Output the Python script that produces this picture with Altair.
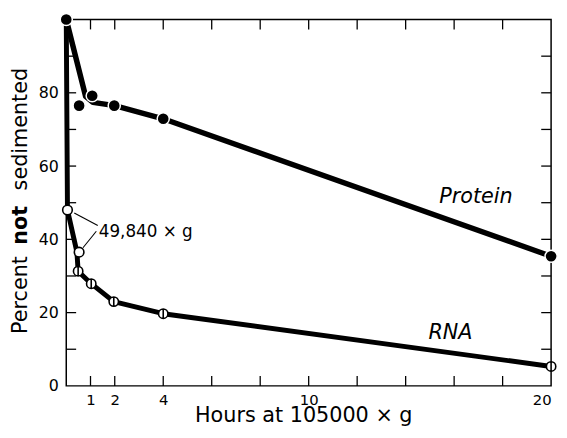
import altair as alt
import pandas as pd

# ---------------- data ----------------
# Protein (filled circles)
protein_hours = [0, 0.53, 1.07, 1.98, 4, 20]
protein_pct = [100, 76.5, 79.2, 76.5, 72.9, 35.4]
# drawn protein curve
protein_curve_hours = [0, 0.8, 1.1, 2, 4, 20]
protein_curve_pct = [100, 79, 77.4, 76.5, 72.9, 35.4]

# RNA at 105000 x g (circles with bar)
rna_hours = [0.49, 1.03, 1.96, 4, 20]
rna_pct = [31.3, 27.9, 23.0, 19.7, 5.3]
# RNA at 49,840 x g (open circles)
rna_low_hours = [0.05, 0.53]
rna_low_pct = [48.0, 36.5]
# drawn RNA curve
rna_curve_hours = [0, 0.05, 0.44, 0.49, 1.03, 1.96, 4, 20]
rna_curve_pct = [100, 48.0, 36.5, 31.3, 27.9, 23.0, 19.7, 5.3]

x_label_values = [1, 2, 4, 10, 20]
y_label_values = [0, 20, 40, 60, 80]
x_tick_values = [1, 2, 4, 6, 8, 10, 12, 14, 16, 18]
y_tick_values = [10, 20, 30, 40, 50, 60, 70, 80, 90]

series_labels = ["Protein", "RNA"]
series_label_hours = [16.9, 15.85]
series_label_pct = [49.9, 12.9]

annot_text = ["49,840 \u00d7 g"]
annot_hours = [1.34]
annot_pct = [40.6]
leader_h1 = [0.33, 0.69]
leader_p1 = [47.2, 37.7]
leader_h2 = [1.30, 1.24]
leader_p2 = [43.8, 42.2]

x_title = "Hours at 105000 \u00d7 g"

# ---------------- chart ----------------
W, H = 491, 371
FONT = "DejaVu Sans"

xscale = alt.Scale(domain=[0, 20], nice=False, zero=False)
yscale = alt.Scale(domain=[0, 100], nice=False, zero=False)

xaxis = alt.Axis(values=x_label_values, ticks=False, tickSize=0, domain=False, grid=False,
                 labelFont=FONT, labelFontSize=15, labelColor="black", labelPadding=7,
                 title=x_title, titleFont=FONT, titleFontSize=21, titleFontWeight="normal",
                 titleColor="black", titleBaseline="alphabetic", titleAlign="center",
                 titleX=240, titleY=36)
yaxis = alt.Axis(values=y_label_values, ticks=False, tickSize=0, domain=False, grid=False,
                 labelFont=FONT, labelFontSize=16, labelColor="black", labelPadding=8,
                 title="")

X = alt.X("h:Q", scale=xscale, axis=xaxis)
Y = alt.Y("p:Q", scale=yscale, axis=yaxis)

prot_curve = pd.DataFrame({"h": protein_curve_hours, "p": protein_curve_pct})
rna_curve = pd.DataFrame({"h": rna_curve_hours, "p": rna_curve_pct})
prot_pts = pd.DataFrame({"h": protein_hours, "p": protein_pct})
rna_pts = pd.DataFrame({"h": rna_hours, "p": rna_pct})
rna_low = pd.DataFrame({"h": rna_low_hours, "p": rna_low_pct})
leaders = pd.DataFrame({"h": leader_h1, "p": leader_p1, "h2": leader_h2, "p2": leader_p2})
labels = pd.DataFrame({"h": series_label_hours, "p": series_label_pct, "t": series_labels})
annot = pd.DataFrame({"h": annot_hours, "p": annot_pct, "t": annot_text})
xt = pd.DataFrame({"h": x_tick_values})
yt = pd.DataFrame({"p": y_tick_values})

line_p = alt.Chart(prot_curve).mark_line(color="black", strokeWidth=5.5, strokeCap="round",
                                         strokeJoin="round").encode(x=X, y=Y)
line_r = alt.Chart(rna_curve).mark_line(color="black", strokeWidth=5, strokeCap="round",
                                        strokeJoin="round").encode(x=X, y=Y)

lead = alt.Chart(leaders).mark_rule(color="black", strokeWidth=1.1).encode(
    x=X, y=Y, x2="h2:Q", y2="p2:Q")

pts_p = alt.Chart(prot_pts).mark_point(shape="circle", filled=True, fill="black",
                                       stroke="white", strokeWidth=1.5, size=150,
                                       opacity=1).encode(x=X, y=Y)

phi_shape = "M-1,0A1,1,0,1,1,1,0A1,1,0,1,1,-1,0ZM0,-1.1L0,1.1"
pts_r = alt.Chart(rna_pts).mark_point(shape=phi_shape, filled=True, fill="white",
                                      stroke="black", strokeWidth=1.6, size=90,
                                      opacity=1).encode(x=X, y=Y)
pts_low = alt.Chart(rna_low).mark_point(shape="circle", filled=True, fill="white",
                                        stroke="black", strokeWidth=1.6, size=95,
                                        opacity=1).encode(x=X, y=Y)

lab = alt.Chart(labels).mark_text(font=FONT, fontSize=21, fontStyle="italic",
                                  align="center", baseline="alphabetic",
                                  color="black").encode(x=X, y=Y, text="t:N")
ann = alt.Chart(annot).mark_text(font=FONT, fontSize=17, align="left",
                                 baseline="alphabetic", color="black").encode(x=X, y=Y, text="t:N")

tick_style = dict(color="black", strokeWidth=1.3)
t_bottom = alt.Chart(xt).mark_rule(**tick_style).encode(
    x=X, y=alt.value(H), y2=alt.value(H - 10))
t_top = alt.Chart(xt).mark_rule(**tick_style).encode(
    x=X, y=alt.value(0), y2=alt.value(10))
t_left = alt.Chart(yt).mark_rule(**tick_style).encode(
    y=Y, x=alt.value(0), x2=alt.value(10))
t_right = alt.Chart(yt).mark_rule(**tick_style).encode(
    y=Y, x=alt.value(W), x2=alt.value(W - 10))

one = pd.DataFrame({"k": [0]})
def ytitle(txt, ycenter, weight):
    return alt.Chart(one).mark_text(text=txt, font=FONT, fontSize=21, fontWeight=weight,
                                    angle=270, align="center", baseline="alphabetic",
                                    color="black").encode(x=alt.value(-40), y=alt.value(ycenter))

yt1 = ytitle("Percent", 279, "normal")
yt2 = ytitle("not", 208.5, "bold")
yt3 = ytitle("sedimented", 111, "normal")

chart = alt.layer(
    t_bottom, t_top, t_left, t_right,
    line_p, line_r, lead, pts_p, pts_r, pts_low, lab, ann, yt1, yt2, yt3
).properties(
    width=W, height=H,
    autosize=alt.AutoSizeParams(type="none"),
    padding={"left": 59, "top": 9, "right": 8, "bottom": 42},
    background="white",
).configure_view(stroke="black", strokeWidth=1.5)

chart.save("out.html", embed_options={"renderer": "svg", "actions": False})
